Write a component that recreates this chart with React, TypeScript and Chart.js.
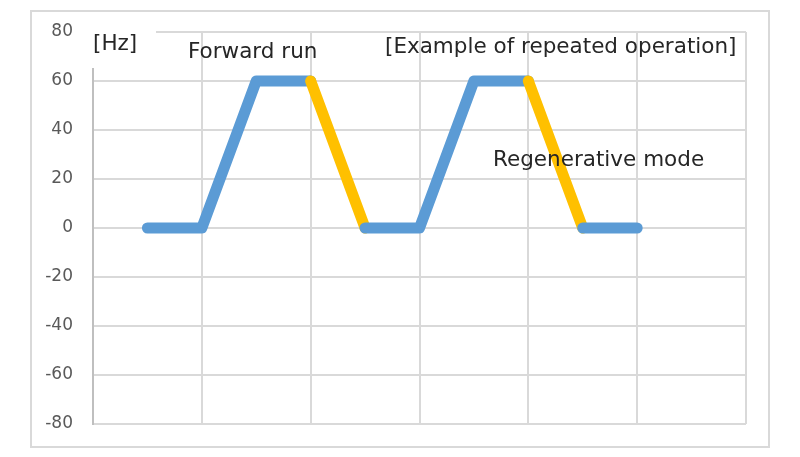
import { useEffect, useRef } from 'react'
import { Chart, registerables } from 'chart.js'

Chart.register(...registerables)

// time steps (x positions) and output frequency in Hz
const steps = [1, 2, 3, 4, 5, 6, 7, 8, 9, 10]
const frequency = [0, 0, 60, 60, 0, 0, 60, 60, 0, 0]

const yTicks = { min: -80, max: 80, step: 20 }
const xRange = { min: 0, max: 12, step: 2 }

const BLUE = '#5B9BD5'
const ORANGE = '#FFC000'
const GRID = '#d9d9d9'
const FONT = 'DejaVu Sans'

const annotations = [
  { text: 'Forward run', x: 188, y: 52 },
  { text: '[Example of repeated operation]', x: 385, y: 47 },
  { text: 'Regenerative mode', x: 493, y: 160 },
]

const labelsPlugin = {
  id: 'labels',
  afterDraw(chart: Chart) {
    const ctx = chart.ctx
    ctx.save()
    // unit box sits over the top of the axis, like the original
    ctx.fillStyle = '#ffffff'
    ctx.fillRect(86, 24, 70, 44)
    ctx.fillStyle = '#262626'
    ctx.font = `21.5px "${FONT}"`
    ctx.textBaseline = 'middle'
    ctx.textAlign = 'left'
    ctx.fillText('[Hz]', 93, 44)
    annotations.forEach(a => ctx.fillText(a.text, a.x, a.y))
    ctx.restore()
  },
}

export default function App() {
  const canvasRef = useRef<HTMLCanvasElement>(null)

  useEffect(() => {
    if (!canvasRef.current) return
    const chart = new Chart(canvasRef.current, {
      type: 'line',
      data: {
        datasets: [{
          label: 'Frequency',
          data: steps.map((s, i) => ({ x: s, y: frequency[i] })),
          borderColor: BLUE,
          borderWidth: 11,
          borderCapStyle: 'round',
          borderJoinStyle: 'round',
          pointRadius: 0,
          tension: 0,
          segment: {
            // deceleration segments are shown as regenerative mode
            borderColor: (c: any) => (c.p1.parsed.y < c.p0.parsed.y ? ORANGE : BLUE),
          },
        }],
      },
      options: {
        responsive: false,
        animation: false,
        layout: { padding: { top: 32, right: 54, bottom: 33, left: 0 } },
        plugins: { legend: { display: false }, tooltip: { enabled: false } },
        scales: {
          x: {
            type: 'linear',
            min: xRange.min,
            max: xRange.max,
            ticks: { display: false, stepSize: xRange.step },
            grid: {
              drawTicks: false,
              lineWidth: 2,
              color: (c: any) => (c.tick && c.tick.value === 0 ? 'rgba(0,0,0,0)' : GRID),
            },
            border: { display: false },
            afterFit: (s: any) => { s.height = 0 },
          },
          y: {
            min: yTicks.min,
            max: yTicks.max,
            ticks: {
              stepSize: yTicks.step,
              color: '#595959',
              padding: 20,
              font: { family: FONT, size: 17 },
            },
            grid: { drawTicks: false, color: GRID, lineWidth: 2 },
            border: { color: '#bfbfbf', width: 2 },
            afterFit: (s: any) => { s.width = 93 },
          },
        },
      },
      plugins: [labelsPlugin],
    })
    return () => chart.destroy()
  }, [])

  return (
    <div style={{ position: 'absolute', left: 0, top: 0, width: 800, height: 457, background: '#fff' }}>
      <div style={{
        position: 'absolute', left: 30, top: 10, width: 740, height: 438,
        border: '2px solid #d9d9d9', boxSizing: 'border-box',
      }} />
      <canvas ref={canvasRef} width={800} height={457} style={{ position: 'absolute', left: 0, top: 0 }} />
    </div>
  )
}
